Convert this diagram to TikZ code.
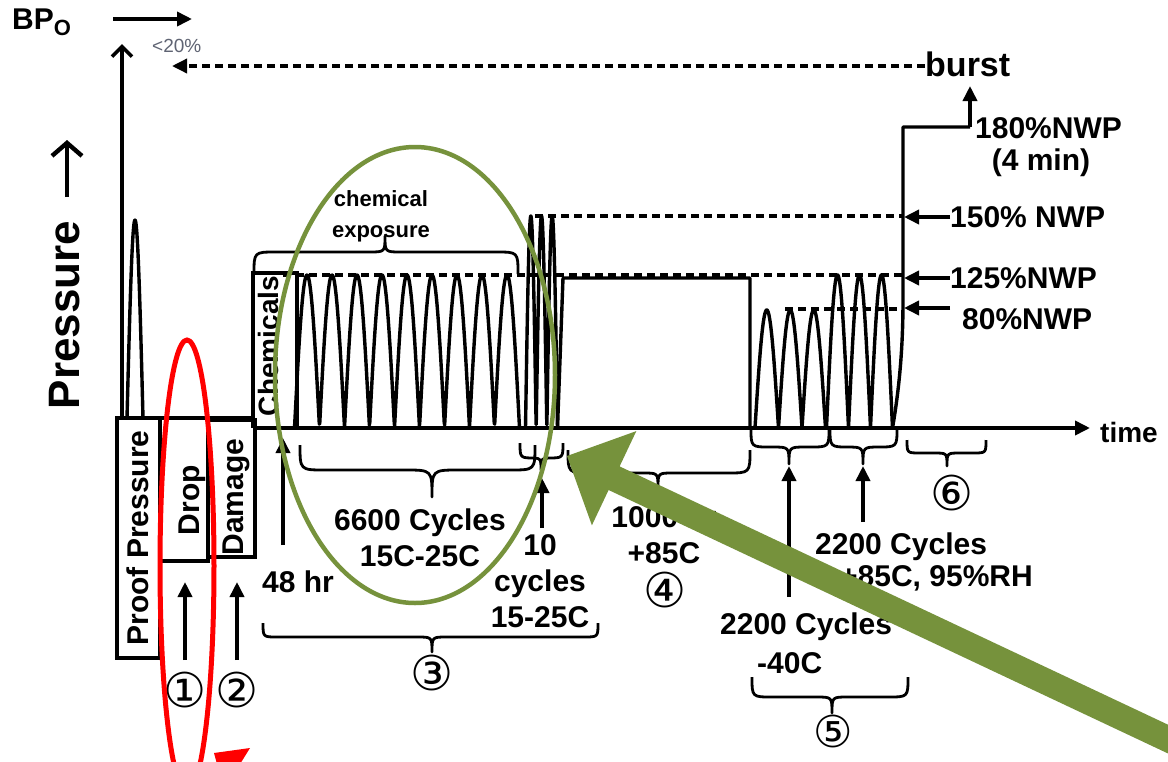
\documentclass[tikz,border=0pt]{standalone}
\usepackage{fontspec}
\setmainfont{Liberation Sans}
\newfontfamily\djv{DejaVu Sans}
\usetikzlibrary{arrows.meta}
\definecolor{hlgreen}{RGB}{118,146,60}
\definecolor{smallgray}{RGB}{95,100,115}
\newcommand{\hbr}[6]{%
  \pgfmathsetmacro{\brR}{abs(#5-#4)}%
  \pgfmathsetmacro{\brT}{abs(#6-#5)}%
  \draw[br] (#1,#4) .. controls (#1,#5) .. ({#1+\brR},#5) -- ({#3-\brT},#5) .. controls (#3,#5) .. (#3,#6) .. controls (#3,#5) .. ({#3+\brT},#5) -- ({#2-\brR},#5) .. controls (#2,#5) .. (#2,#4);}
\begin{document}
\begin{tikzpicture}[x=1pt,y=-1pt,
  ln/.style={line width=3.6pt},
  wave/.style={line width=3.4pt, line join=round},
  dline/.style={line width=3.4pt, dash pattern=on 8pt off 5pt},
  br/.style={line width=2.8pt, line join=round},
  tri/.style={-{Triangle[length=15pt,width=14pt]}},
  lbl/.style={font=\fontsize{30}{36}\selectfont\bfseries, align=center, inner sep=0pt},
  boxtxt/.style={font=\fontsize{30}{36}\selectfont\bfseries, inner sep=0pt, rotate=90},
  circ/.style={font=\djv\fontsize{48}{48}\selectfont, inner sep=0pt}]
\useasboundingbox (0,0) rectangle (1168,761);
\fill[white] (0,0) rectangle (1168,761);

% ---------- axes ----------
\draw[ln, -{Straight Barb[length=10pt,width=20pt,line width=3.6pt]}] (122,418) -- (122,44);
\draw[ln, tri] (253,428) -- (1090,428);
\node[font=\fontsize{28}{28}\selectfont\bfseries, anchor=west, inner sep=0pt] (time) at (1100,432) {time};
\node[font=\fontsize{44}{44}\selectfont\bfseries, rotate=90, inner sep=0pt] (press) at (65,315) {Pressure};
\coordinate (pa0) at (67,197);
\coordinate (pa1) at (67,140);
\draw[line width=4.4pt, -{Straight Barb[length=13pt,width=30pt,line width=4.4pt]}] (pa0) -- (pa1);

% ---------- BPo ----------
\node[font=\fontsize{30}{30}\selectfont\bfseries, anchor=west, inner sep=0pt] (bpo) at (12,22) {BP\raisebox{-6pt}{\fontsize{22}{22}\selectfont O}};
\coordinate (bpa0) at (113,19);
\coordinate (bpa1) at (192,19);
\draw[ln, tri] (bpa0) -- (bpa1);
\node[font=\fontsize{19}{19}\selectfont, text=smallgray, anchor=west, inner sep=0pt] (lt20) at (152,46) {<20\%};
\node[font=\fontsize{34}{34}\selectfont\bfseries, anchor=west, inner sep=0pt] (burst) at (925,64) {burst};
\coordinate (bdl) at (172,66);
\draw[dline, tri] (burst.west |- bdl) -- (bdl);

% ---------- boxes ----------
\draw[ln] (117,418) -- (255,418);
\draw[ln] (117,418) rectangle (160,658);
\node[boxtxt] (proof) at (138,538) {Proof Pressure};
\draw[ln] (160,418) rectangle (208,561);
\node[boxtxt] (drop) at (192,500) {Drop};
\draw[ln] (208,420) rectangle (255,557);
\node[boxtxt] (damage) at (236,497) {Damage};
\draw[ln] (297,428) -- (297,273) -- (253,273) -- (253,428);
\node[font=\fontsize{28}{28}\selectfont\bfseries, rotate=90, inner sep=0pt] (chem) at (268,346) {Chemicals};

% proof spike
\draw[wave] plot[domain=127:143, samples=60] (\x, {418 - 198*abs(sin((\x-127)*11.25))});

% ---------- level dashed lines ----------
\draw[dline] (283,275) -- (903,275);
\draw[dline] (535,216) -- (903,216);
\draw[dline] (785,309) -- (903,309);

% ---------- waveforms ----------
\draw[wave] plot[domain=294.5:519.5, samples=500] (\x, {428 - 153*abs(sin((\x-294.5)*7.2))});
\draw[wave] plot[domain=525.5:557.5, samples=200] (\x, {428 - 212*abs(sin((\x-525.5)*16.875))});
\draw[wave] (557.5,428) -- (563,278) -- (750,278) -- (750,428);
\draw[wave] plot[domain=755:825.5, samples=300] (\x, {428 - 118*abs(sin((\x-755)*7.6596))});
\draw[wave] plot[domain=826.5:892.5, samples=300] (\x, {428 - 153*abs(sin((\x-826.5)*8.1818))});
\coordinate (btop) at (903,127);
\coordinate (bcorner) at (970,127);
\coordinate (barrow) at (970,86);
\draw[wave] (892.5,428) .. controls (899,390) and (903,350) .. (903,300) -- (btop) -- (bcorner);
\draw[ln, tri] (bcorner) -- (barrow);
\coordinate (bl) at (904,0);

% ---------- level labels ----------
\node[lbl, anchor=west] (l180) at (975,128) {180\%NWP};
\node[lbl] (l4min) at (1041,163) {(4 min)};
\node[lbl, anchor=west] (l150) at (950,217) {150\% NWP};
\node[lbl, anchor=west] (l125) at (950,278) {125\%NWP};
\node[lbl, anchor=west] (l80) at (962,319) {80\%NWP};
\coordinate (a80) at (950,308);
\draw[ln, tri] (l150.west) -- (l150.west -| bl);
\draw[ln, tri] (l125.west) -- (l125.west -| bl);
\draw[ln, tri] (a80) -- (a80 -| bl);

% ---------- chemical exposure ----------
\node[font=\fontsize{22}{31}\selectfont\bfseries, align=center, inner sep=0pt] (chemexp) at (381,216) {chemical\\exposure};
\hbr{254}{518}{385}{274}{252}{236}

% ---------- braces ----------
\hbr{300}{535}{432}{445}{470}{497}
\hbr{520}{563}{541}{443}{458}{470}
\hbr{263}{598}{432}{623}{637}{652}
\hbr{568}{750}{658}{450}{473}{488}
\hbr{751}{829}{789}{428}{447}{464}
\hbr{830}{897}{863}{428}{447}{464}
\hbr{907}{986}{947}{440}{453}{466}
\hbr{752}{908}{832}{677}{697}{713}

% ---------- bottom labels & arrows ----------
\node[lbl, anchor=west] (h48) at (262,582) {48 hr};
\coordinate (h48a) at (283,545);
\coordinate (h48b) at (283,438);
\draw[ln, tri] (h48a) -- (h48b);
\node[lbl] (c6600) at (420,538) {6600 Cycles\\15C-25C};
\node[lbl] (c10) at (540,581) {10\\cycles\\15-25C};
\coordinate (c10a) at (542,528);
\coordinate (c10b) at (542,478);
\draw[ln, tri] (c10a) -- (c10b);
\node[lbl] (c1000) at (664,535) {1000 hr\\+85C};
\node[lbl, anchor=west] (c2200a) at (815,547) {2200 Cycles};
\node[lbl, anchor=west] (c85) at (840,578) {+85C, 95\%RH};
\node[lbl, anchor=west] (c2200b) at (720,627) {2200 Cycles};
\node[lbl, anchor=west] (m40) at (757,663) {-40C};
\coordinate (s5a0) at (789,597);
\coordinate (s5a1) at (789,466);
\draw[ln, tri] (s5a0) -- (s5a1);
\coordinate (s5b0) at (863,522);
\coordinate (s5b1) at (863,466);
\draw[ln, tri] (s5b0) -- (s5b1);
\coordinate (n1a) at (185,660);
\coordinate (n1b) at (185,582);
\draw[ln, tri] (n1a) -- (n1b);
\coordinate (n2a) at (237,660);
\coordinate (n2b) at (237,582);
\draw[ln, tri] (n2a) -- (n2b);

\node[circ] (n1) at (185,690) {①};
\node[circ] (n2) at (237,690) {②};
\node[circ] (n3) at (432,673) {③};
\node[circ] (n4) at (665,590) {④};
\node[circ, font=\djv\fontsize{44}{44}\selectfont] (n5) at (833,731) {⑤};
\node[circ] (n6) at (952,493) {⑥};

% ---------- highlights ----------
\draw[hlgreen, line width=4.5pt] (415,375) ellipse [x radius=140pt, y radius=228pt];
\draw[red, line width=5pt] (187,566) ellipse [x radius=27pt, y radius=226pt];
\fill[red] (214,753) -- (250,748) -- (224,790) -- cycle;
\fill[hlgreen] (567,456) -- (636.3,431.1) -- (619.6,466.4) -- (1296.5,785.2) -- (1285.5,808.8) -- (608.6,490.0) -- (591.9,525.3) -- cycle;
\end{tikzpicture}
\end{document}
